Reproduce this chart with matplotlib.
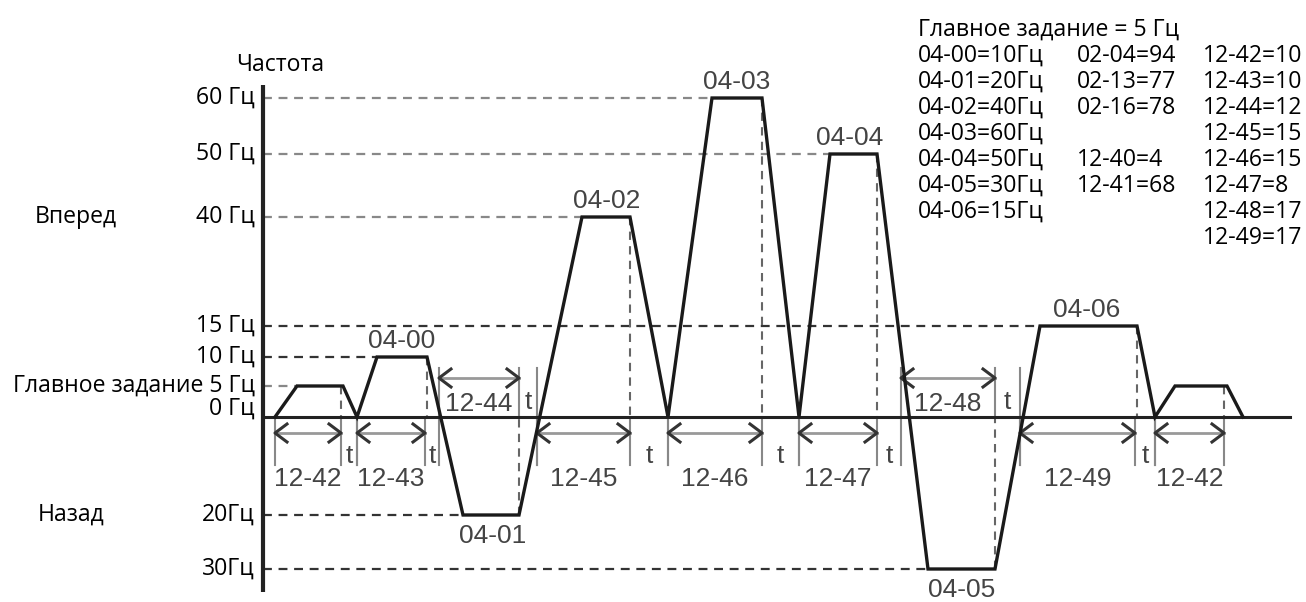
import numpy as np
import matplotlib.pyplot as plt

# schematic frequency scale: level (Hz, reverse negative) -> row on the drawing
levels = [60, 50, 40, 15, 10, 5, 0, -20, -30]
level_rows = [98, 154, 217, 326, 357, 386, 417, 515, 569]
level_labels = ['60 Гц', '50 Гц', '40 Гц', '15 Гц', '10 Гц',
                'Главное задание 5 Гц', '0 Гц', '20Гц', '30Гц']

# speed profile (time units, Hz)
prof_t = [275, 297, 343, 357, 377, 427, 463, 519, 582, 630, 668, 712, 762,
          799, 830, 877, 928, 995, 1040, 1137, 1155, 1175, 1227, 1243]
prof_f = [0, 5, 5, 0, 10, 10, -20, -20, 40, 40, 0, 60, 60,
          0, 50, 50, -30, -30, 15, 15, 0, 5, 5, 0]

# step names and where they sit (time, Hz)
step_names = ['04-00', '04-01', '04-02', '04-03', '04-04', '04-05', '04-06']
step_t = [402, 493, 607, 737, 850, 962, 1087]
step_f = [10, -20, 40, 60, 50, -30, 15]

# reference line end times per level
ref_end = {60: 712, 50: 830, 40: 582, 15: 1040, 10: 377, 5: 297, -20: 463, -30: 928}

# timing intervals
intervals = [('12-42', 275, 341, 'low'), ('12-43', 357, 425, 'low'),
             ('12-44', 439, 519, 'high'), ('12-45', 537, 630, 'low'),
             ('12-46', 668, 762, 'low'), ('12-47', 799, 877, 'low'),
             ('12-48', 901, 995, 'high'), ('12-49', 1020, 1135, 'low'),
             ('12-42', 1155, 1224, 'low')]
t_gaps = [(341, 357, 'low'), (425, 439, 'low'), (519, 537, 'high'),
          (630, 668, 'low'), (762, 799, 'low'), (877, 901, 'low'),
          (995, 1020, 'high'), (1135, 1155, 'low')]

# vertical drop lines (time, from Hz)
drops = [(341, 5), (427, 10), (519, -20), (630, 40), (762, 60),
         (877, 50), (995, -30), (1137, 15), (1224, 5)]

param_col1 = ['04-00=10Гц', '04-01=20Гц', '04-02=40Гц', '04-03=60Гц',
              '04-04=50Гц', '04-05=30Гц', '04-06=15Гц']
param_col2 = ['02-04=94', '02-13=77', '02-16=78', '', '12-40=4', '12-41=68']
param_col3 = ['12-42=10', '12-43=10', '12-44=12', '12-45=15', '12-46=15',
              '12-47=8', '12-48=17', '12-49=17']


def fy(f):
    return np.interp(f, levels[::-1], level_rows[::-1])


CAL = 'Open Sans'
ARI = 'Liberation Sans'
FS = 16.6
FA = 19

fig = plt.figure(figsize=(13.06, 6.02), dpi=100)
ax = fig.add_axes([0, 0, 1, 1])
ax.set_xlim(0, 1306)
ax.set_ylim(602, 0)
ax.axis('off')

x0 = 263
y0 = fy(0)

# axes of the diagram
ax.plot([x0, x0], [85, 592], color='#222', lw=3, solid_capstyle='butt', zorder=5)
ax.plot([x0, 1290], [y0, y0], color='#222', lw=2.2, zorder=5)

# horizontal reference lines
for lv, te in ref_end.items():
    c = '#888' if lv in (60, 50, 40, 5) else '#333'
    ax.plot([x0, te], [fy(lv), fy(lv)], color=c, lw=1.6, ls=(0, (4, 3)), zorder=2)

# vertical drop lines
for t, f in drops:
    ax.plot([t, t], [fy(f), y0], color='#666', lw=1.5, ls=(0, (4, 3)), zorder=2)

# profile
ax.plot(prof_t, fy(np.array(prof_f)), color='#1a1a1a', lw=2.4,
        solid_joinstyle='miter', zorder=6)

# level labels
for lab, r in zip(level_labels, level_rows):
    dy = -8 if lab == '0 Гц' else 0
    ax.text(255, r + dy, lab, ha='right', va='center', family=CAL, fontsize=FS)
ax.text(280, 65, 'Частота', ha='center', va='center', family=CAL, fontsize=FS)
ax.text(35, fy(40), 'Вперед', ha='left', va='center', family=CAL, fontsize=FS)
ax.text(38, fy(-20), 'Назад', ha='left', va='center', family=CAL, fontsize=FS)

# step labels
for n, t, f in zip(step_names, step_t, step_f):
    yy = fy(f) - 16 if f > 0 else fy(f) + 21
    ax.text(t, yy, n, ha='center', va='center', family=ARI, fontsize=FA, color='#444')

# timing intervals
hw, hh = 12, 9
for lab, a, b, side in intervals:
    if side == 'low':
        ya, yt, y1, y2 = 433, 479, y0, 465
    else:
        ya, yt, y1, y2 = 378, 404, 368, y0
    ax.plot([a, b], [ya, ya], color='#999', lw=2, zorder=3)
    ax.plot([a + hw, a, a + hw], [ya - hh, ya, ya + hh], color='#333', lw=2.2, zorder=4)
    ax.plot([b - hw, b, b - hw], [ya - hh, ya, ya + hh], color='#333', lw=2.2, zorder=4)
    for x in (a, b):
        ax.plot([x, x], [y1, y2], color='#888', lw=1.5, zorder=3)
    ax.text((a + b) / 2, yt, lab, ha='center', va='center', family=ARI,
            fontsize=FA, color='#444')

for a, b, side in t_gaps:
    yt = 456 if side == 'low' else 402
    ax.text((a + b) / 2, yt, 't', ha='center', va='center', family=ARI,
            fontsize=FA, color='#444')
    ax.plot([b, b], [368 if side == 'high' else y0, 465], color='#888', lw=1.5, zorder=3)

# parameter list
ax.text(918, 30, 'Главное задание = 5 Гц', ha='left', va='center', family=CAL, fontsize=FS)
for i, s in enumerate(param_col1):
    ax.text(918, 56 + 26 * i, s, ha='left', va='center', family=CAL, fontsize=FS)
for i, s in enumerate(param_col2):
    ax.text(1077, 56 + 26 * i, s, ha='left', va='center', family=CAL, fontsize=FS)
for i, s in enumerate(param_col3):
    ax.text(1203, 56 + 26 * i, s, ha='left', va='center', family=CAL, fontsize=FS)

fig.savefig('out.png', dpi=100)
